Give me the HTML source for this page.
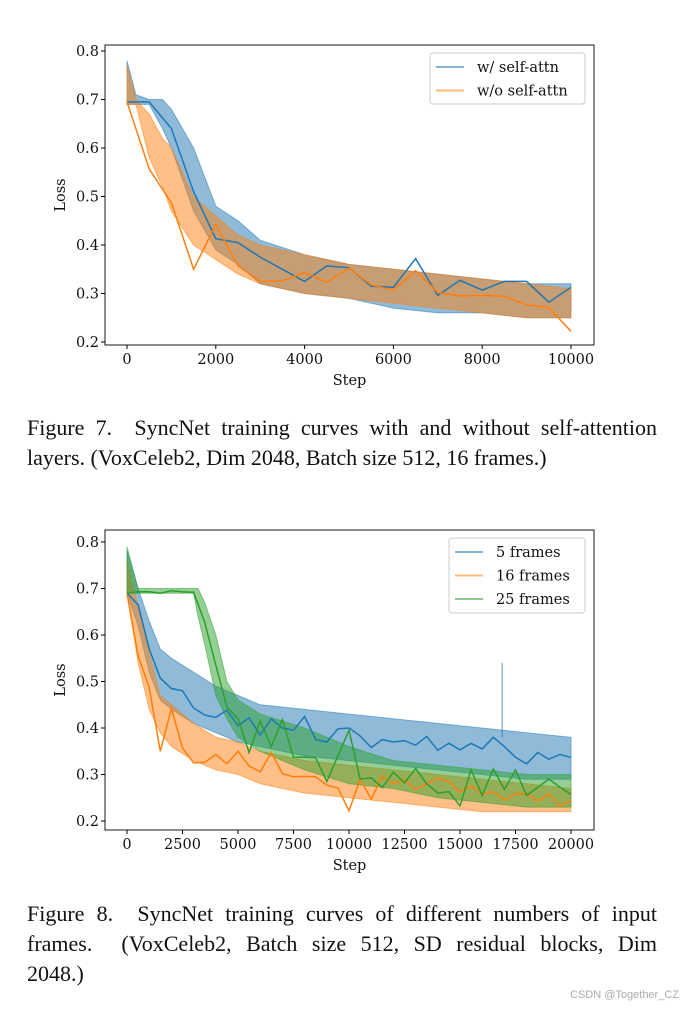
<!DOCTYPE html>
<html><head><meta charset="utf-8">
<style>
body{margin:0;background:#fff;width:685px;height:1010px;overflow:hidden;position:relative}
svg{position:absolute;left:0;top:0}
.cap{position:absolute;left:27px;width:630px;font-family:"Liberation Serif",serif;font-size:22px;line-height:30px;color:#111}
.cap div{white-space:nowrap;text-align:justify;text-align-last:justify;height:30px}
.cap div.last{text-align-last:left}
.wm{position:absolute;right:6px;top:989px;font-family:"Liberation Sans","Noto Sans CJK SC",sans-serif;font-size:11px;color:#aaa}
</style></head><body>
<svg id="s" width="685" height="1010"></svg>
<div class="cap" style="top:413px"><div>Figure 7.&nbsp; SyncNet training curves with and without self-attention</div><div class="last">layers. (VoxCeleb2, Dim 2048, Batch size 512, 16 frames.)</div></div>
<div class="cap" style="top:899px"><div>Figure 8.&nbsp; SyncNet training curves of different numbers of input</div><div>frames.&nbsp; (VoxCeleb2, Batch size 512, SD residual blocks, Dim</div><div class="last">2048.)</div></div>
<div class="wm">CSDN @Together_CZ</div>
<script>
// ---- Chart 1 data ----
const c1Steps=[0,500,1000,1500,2000,2500,3000,3500,4000,4500,5000,5500,6000,6500,7000,7500,8000,8500,9000,9500,10000];
const c1Blue=[0.695,0.695,0.64,0.51,0.413,0.405,0.375,0.35,0.325,0.357,0.353,0.315,0.313,0.372,0.296,0.327,0.307,0.325,0.325,0.282,0.313];
const c1Orange=[0.695,0.557,0.487,0.35,0.442,0.357,0.325,0.326,0.343,0.323,0.352,0.318,0.307,0.347,0.302,0.295,0.296,0.294,0.277,0.271,0.222];
const c1BandSteps=[0,200,500,800,1000,1500,2000,2500,3000,4000,5000,6000,7000,8000,9000,10000];
const c1BlueLo=[0.69,0.69,0.69,0.64,0.60,0.47,0.39,0.36,0.32,0.30,0.29,0.27,0.26,0.26,0.25,0.25];
const c1BlueHi=[0.78,0.71,0.70,0.70,0.68,0.60,0.48,0.45,0.41,0.38,0.36,0.35,0.34,0.33,0.32,0.32];
const c1OrangeLo=[0.69,0.69,0.58,0.52,0.47,0.40,0.37,0.34,0.32,0.30,0.29,0.28,0.27,0.26,0.25,0.25];
const c1OrangeHi=[0.77,0.70,0.67,0.62,0.60,0.50,0.46,0.42,0.40,0.38,0.36,0.35,0.34,0.33,0.32,0.31];
const c1XTicks=[0,2000,4000,6000,8000,10000];
const yTicks=[0.2,0.3,0.4,0.5,0.6,0.7,0.8];
// ---- Chart 2 data ----
const c2Steps=[0,500,1000,1500,2000,2500,3000,3500,4000,4500,5000,5500,6000,6500,7000,7500,8000,8500,9000,9500,10000,10500,11000,11500,12000,12500,13000,13500,14000,14500,15000,15500,16000,16500,17000,17500,18000,18500,19000,19500,20000];
const c2Blue=[0.69,0.665,0.57,0.507,0.485,0.48,0.443,0.428,0.423,0.438,0.405,0.422,0.385,0.42,0.40,0.395,0.425,0.375,0.37,0.398,0.40,0.383,0.358,0.375,0.37,0.373,0.363,0.382,0.352,0.367,0.353,0.367,0.355,0.38,0.36,0.337,0.323,0.347,0.333,0.343,0.337];
const c2Orange=[0.69,0.555,0.487,0.35,0.442,0.357,0.325,0.326,0.343,0.323,0.35,0.318,0.306,0.347,0.302,0.295,0.296,0.295,0.277,0.271,0.222,0.29,0.247,0.296,0.28,0.29,0.268,0.28,0.293,0.285,0.262,0.275,0.258,0.263,0.245,0.258,0.258,0.243,0.258,0.232,0.245];
const c2Green=[0.69,0.693,0.693,0.69,0.695,0.693,0.692,0.627,0.535,0.445,0.42,0.347,0.415,0.36,0.418,0.337,0.337,0.336,0.285,0.34,0.395,0.29,0.293,0.272,0.305,0.282,0.313,0.28,0.26,0.263,0.233,0.31,0.255,0.312,0.268,0.31,0.255,0.272,0.29,0.273,0.257];
const c2BlueBandSteps=[0,500,1000,1500,2000,3000,4000,5000,6000,8000,10000,12000,14000,16000,18000,20000];
const c2BlueLo=[0.69,0.62,0.52,0.46,0.44,0.41,0.39,0.37,0.36,0.34,0.33,0.32,0.31,0.30,0.29,0.29];
const c2BlueHi=[0.78,0.70,0.63,0.57,0.55,0.52,0.49,0.47,0.45,0.44,0.43,0.42,0.41,0.40,0.39,0.38];
const c2OrangeLo=[0.69,0.54,0.44,0.39,0.36,0.33,0.31,0.30,0.28,0.26,0.25,0.24,0.23,0.22,0.22,0.22];
const c2OrangeHi=[0.76,0.66,0.56,0.47,0.45,0.41,0.38,0.37,0.35,0.33,0.32,0.31,0.30,0.29,0.28,0.27];
const c2GreenBandSteps=[0,500,3000,3200,3500,4000,4500,5000,6000,8000,10000,12000,14000,16000,18000,20000];
const c2GreenLo=[0.69,0.69,0.69,0.64,0.58,0.47,0.42,0.38,0.35,0.31,0.28,0.27,0.25,0.24,0.23,0.23];
const c2GreenHi=[0.79,0.70,0.70,0.70,0.67,0.60,0.50,0.46,0.43,0.40,0.36,0.33,0.32,0.31,0.30,0.30];
const c2SpikeStep=[16900];
const c2SpikeVal=[0.54];
const c2XTicks=[0,2500,5000,7500,10000,12500,15000,17500,20000];

const NS="http://www.w3.org/2000/svg";
const svg=document.getElementById('s');
function mk(tag,attrs,parent){const e=document.createElementNS(NS,tag);for(const k in attrs)e.setAttribute(k,attrs[k]);(parent||svg).appendChild(e);return e;}
const BLUE='#1f77b4',ORANGE='#ff7f0e',GREEN='#2ca02c';
const TF='"DejaVu Serif","Liberation Serif",serif';

function chart(cfg){
  const g=mk('g',{});
  
  
  const X=v=>cfg.x0+(v-cfg.xmin)/(cfg.xmax-cfg.xmin)*(cfg.x1-cfg.x0);
  const Y=v=>cfg.y0+(0.8-v)/0.6*(cfg.y1-cfg.y0);
  cfg.bands.forEach(b=>{
    let d='';
    b.s.forEach((s,i)=>{d+=(i?'L':'M')+X(s).toFixed(1)+','+Y(b.hi[i]).toFixed(1);});
    for(let i=b.s.length-1;i>=0;i--)d+='L'+X(b.s[i]).toFixed(1)+','+Y(b.lo[i]).toFixed(1);
    const p=mk('path',{d:d+'Z',fill:b.c,'fill-opacity':0.5,stroke:b.c,'stroke-opacity':0.5,'stroke-width':1},g);
    
    
  });
  (cfg.spikes||[]).forEach((s,i)=>{
    const l=mk('line',{x1:X(s),x2:X(s),y1:Y(cfg.spikeVals[i]),y2:Y(0.38),stroke:BLUE,'stroke-opacity':0.6,'stroke-width':1.2},g);
    
    
  });
  cfg.lines.forEach(L=>{
    const pts=L.s.map((s,i)=>X(s).toFixed(1)+','+Y(L.v[i]).toFixed(1)).join(' ');
    const p=mk('polyline',{points:pts,fill:'none',stroke:L.c,'stroke-width':1.5},g);
    
    
  });
  const f=mk('rect',{x:cfg.bx0,y:cfg.by0,width:cfg.bx1-cfg.bx0,height:cfg.by1-cfg.by0,fill:'none',stroke:'#000','stroke-width':0.9},g);
  
  
  cfg.xt.forEach(t=>{
    mk('line',{x1:X(t),x2:X(t),y1:cfg.by1,y2:cfg.by1+4,stroke:'#000'},g);
    const tx=mk('text',{x:X(t),y:cfg.by1+19,'text-anchor':'middle','font-family':TF,'font-size':14.5,fill:'#111'},g);
    tx.textContent=t;
    
    
  });
  yTicks.forEach(t=>{
    mk('line',{x1:cfg.bx0-4,x2:cfg.bx0,y1:Y(t),y2:Y(t),stroke:'#000'},g);
    const tx=mk('text',{x:cfg.bx0-6,y:Y(t)+5,'text-anchor':'end','font-family':TF,'font-size':14.5,fill:'#111'},g);
    tx.textContent=t.toFixed(1);
    
    
  });
  const xl=mk('text',{x:(cfg.bx0+cfg.bx1)/2,y:cfg.by1+40,'text-anchor':'middle','font-family':TF,'font-size':14.5,fill:'#111'},g);
  xl.textContent='Step';
  
  
  const yc=(cfg.by0+cfg.by1)/2;
  const yl=mk('text',{x:65,y:yc,'text-anchor':'middle','font-family':TF,'font-size':14.5,fill:'#111',transform:`rotate(-90 65 ${yc})`},g);
  yl.textContent='Loss';
  
  
  const lg=cfg.legend;
  const lb=mk('rect',{x:lg.x,y:lg.y,width:lg.w,height:lg.h,rx:3,fill:'#fff','fill-opacity':0.8,stroke:'#ccc'},g);
  
  
  lg.items.forEach((it,i)=>{
    const yy=lg.y+14+i*23.5;
    const ln=mk('line',{x1:lg.x+6,x2:lg.x+34,y1:yy,y2:yy,stroke:it.c,'stroke-opacity':0.55,'stroke-width':2},g);
    
    
    const tx=mk('text',{x:lg.x+47,y:yy+5,'font-family':TF,'font-size':14.5,fill:'#111'},g);
    tx.textContent=it.t;
    
    
  });
}
chart({name:'figure-7-chart',xmin:0,xmax:10000,x0:127,x1:571,y0:51,y1:342,bx0:105,bx1:594,by0:45,by1:345,
  bands:[{s:c1BandSteps,lo:c1BlueLo,hi:c1BlueHi,c:BLUE,n:'w-self-attn'},{s:c1BandSteps,lo:c1OrangeLo,hi:c1OrangeHi,c:ORANGE,n:'wo-self-attn'}],
  lines:[{s:c1Steps,v:c1Blue,c:BLUE,n:'w-self-attn'},{s:c1Steps,v:c1Orange,c:ORANGE,n:'wo-self-attn'}],
  xt:c1XTicks,legend:{x:430,y:53,w:155,h:51,items:[{c:BLUE,t:'w/ self-attn'},{c:ORANGE,t:'w/o self-attn'}]}});
chart({name:'figure-8-chart',xmin:0,xmax:20000,x0:127,x1:571,y0:542,y1:821,bx0:105,bx1:594,by0:530,by1:830,
  bands:[{s:c2BlueBandSteps,lo:c2BlueLo,hi:c2BlueHi,c:BLUE,n:'5-frames'},{s:c2BlueBandSteps,lo:c2OrangeLo,hi:c2OrangeHi,c:ORANGE,n:'16-frames'},{s:c2GreenBandSteps,lo:c2GreenLo,hi:c2GreenHi,c:GREEN,n:'25-frames'}],
  spikes:c2SpikeStep,spikeVals:c2SpikeVal,
  lines:[{s:c2Steps,v:c2Blue,c:BLUE,n:'5-frames'},{s:c2Steps,v:c2Orange,c:ORANGE,n:'16-frames'},{s:c2Steps,v:c2Green,c:GREEN,n:'25-frames'}],
  xt:c2XTicks,legend:{x:449,y:538,w:136,h:75,items:[{c:BLUE,t:'5 frames'},{c:ORANGE,t:'16 frames'},{c:GREEN,t:'25 frames'}]}});
</script>
</body></html>
